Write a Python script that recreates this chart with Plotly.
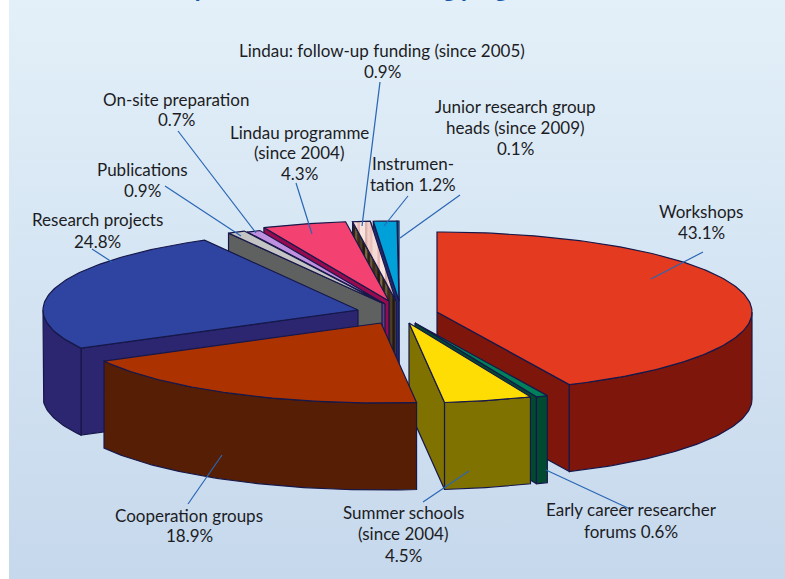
import math
import plotly.graph_objects as go

# ---- data ----
categories = ["Workshops", "Early career researcher forums", "Summer schools", "Cooperation groups",
              "Research projects", "Publications", "On-site preparation", "Lindau programme",
              "Lindau: follow-up funding", "Instrumentation", "Junior research group heads"]
values = [43.1, 0.6, 4.5, 18.9, 24.8, 0.9, 0.7, 4.3, 0.9, 1.2, 0.1]

# ---- styling / layout ----
W, H = 785, 579
RX, RY, DEPTH = 315, 80, 87
apex = [(437, 312), (415, 323), (409, 323), (381, 323), (358, 310), (382, 303),
        (385, 304), (389, 301), (396, 301), (399, 301), (399, 301)]
top_col = ["#e43b20", "#00805a", "#fedd05", "#ac3300", "#2e44a0", "#c4c4c4",
           "#c090e0", "#f34272", "#f2cfcb", "#00a0d8", "#00a0d8"]
wall_col = ["#7f160c", "#014a30", "#7f7200", "#551e05", "#2c2570", "#5f6160",
            "#5c3f86", "#960a50", "#3a2c1c", "#1c2a78", "#1c2a78"]
draw_order = [10, 9, 8, 7, 6, 5, 4, 0, 1, 2, 3]
EDGE = "#17184a"
HATCH_IDX = 8
hatch_top = ["#f6dcd8", "#f6dcd8", "#e9b9b4", "#f8e6e2", "#f8e6e2", "#dcb0ab", "#f3cfca", "#ecc0bb"]
hatch_wall = ["#2e2315", "#6a5a3c", "#3a2c1c", "#4c3e28", "#241a10", "#7a6a48"]

labels = [
    (382, 50, "Lindau: follow-up funding (since 2005)"), (382, 71, "0.9%"),
    (515, 106, "Junior research group"), (515, 127, "heads (since 2009)"), (515, 148, "0.1%"),
    (176, 99, "On-site preparation"), (176, 119, "0.7%"),
    (299, 132, "Lindau programme"), (299, 152, "(since 2004)"), (299, 173, "4.3%"),
    (413, 163, "Instrumen-"), (413, 184, "tation 1.2%"),
    (142, 169, "Publications"), (142, 190, "0.9%"),
    (97, 219, "Research projects"), (97, 241, "24.8%"),
    (701, 211, "Workshops"), (701, 232, "43.1%"),
    (189, 515, "Cooperation groups"), (189, 535, "18.9%"),
    (403, 512, "Summer schools"), (403, 533, "(since 2004)"), (403, 555, "4.5%"),
    (631, 509, "Early career researcher"), (631, 531, "forums 0.6%"),
]
leaders = [((703, 252), (651, 279)), ((460, 195), (400, 238)), ((408, 196), (384, 226)),
           ((380, 82), (362, 226)), ((296, 183), (312, 234)), ((178, 131), (256, 233)),
           ((165, 186), (241, 236)), ((92, 249), (112, 262)), ((188, 504), (222, 455)),
           ((423, 502), (469, 471)), ((546, 470), (630, 509))]

# ---- geometry derived from the values ----
total = sum(values)
bounds = [0.0]
for v in values:
    bounds.append(bounds[-1] + v / total * 360)


def pt(i, a, z=0):
    r = math.radians(a)
    return (apex[i][0] + RX * math.sin(r), apex[i][1] - RY * math.cos(r) + z)


def arc(i, a0, a1, z=0):
    n = max(2, int(abs(a1 - a0)) + 2)
    return [pt(i, a0 + (a1 - a0) * k / (n - 1), z) for k in range(n)]


def clip_band(poly, x0, x1):
    def clip(p, keep, cross):
        out = []
        for k in range(len(p)):
            a, b = p[k], p[(k + 1) % len(p)]
            if keep(a):
                out.append(a)
            if keep(a) != keep(b):
                t = (cross - a[0]) / (b[0] - a[0])
                out.append((cross, a[1] + t * (b[1] - a[1])))
        return out
    res = clip(poly, lambda q: q[0] >= x0, x0)
    if res:
        res = clip(res, lambda q: q[0] <= x1, x1)
    return res


fig = go.Figure()


def add_poly(poly, fill, line=EDGE, width=1.2):
    xs = [q[0] for q in poly] + [poly[0][0]]
    ys = [q[1] for q in poly] + [poly[0][1]]
    fig.add_trace(go.Scatter(x=xs, y=ys, mode="lines", fill="toself", fillcolor=fill,
                             line=dict(color=line, width=width), hoverinfo="skip", showlegend=False))


def add_face(i, poly, fill, stripes=None):
    if stripes is None:
        add_poly(poly, fill)
        return
    add_poly(poly, fill)
    xmin = min(q[0] for q in poly)
    xmax = max(q[0] for q in poly)
    x = xmin
    k = 0
    while x < xmax:
        band = clip_band(poly, x, x + 2.5)
        if len(band) >= 3:
            c = stripes[k % len(stripes)]
            add_poly(band, c, line=c, width=0.2)
        x += 2.5
        k += 1
    xs = [q[0] for q in poly] + [poly[0][0]]
    ys = [q[1] for q in poly] + [poly[0][1]]
    fig.add_trace(go.Scatter(x=xs, y=ys, mode="lines", line=dict(color=EDGE, width=1.2),
                             hoverinfo="skip", showlegend=False))


# background panel with vertical gradient
fig.add_trace(go.Scatter(x=[9, W, W, 9, 9], y=[0, 0, H, H, 0], mode="lines", fill="toself",
                         line=dict(width=0), hoverinfo="skip", showlegend=False,
                         fillgradient=dict(type="vertical",
                                           colorscale=[[0, "#c6d8ec"], [1, "#e3f0f9"]])))

for i in draw_order:
    a0, a1 = bounds[i], bounds[i + 1]
    hatch_w = hatch_wall if i == HATCH_IDX else None
    hatch_t = hatch_top if i == HATCH_IDX else None
    s = math.sin(math.radians(a0))
    if s < -1e-6:   # start wall faces the viewer
        add_face(i, [apex[i], pt(i, a0), pt(i, a0, DEPTH), (apex[i][0], apex[i][1] + DEPTH)],
                 wall_col[i], hatch_w)
    if math.sin(math.radians(a1)) > 1e-6:   # end wall faces the viewer
        add_face(i, [apex[i], pt(i, a1), pt(i, a1, DEPTH), (apex[i][0], apex[i][1] + DEPTH)],
                 wall_col[i], hatch_w)
    lo, hi = max(a0, 90), min(a1, 270)
    if hi > lo:
        add_poly(arc(i, lo, hi) + arc(i, hi, lo, DEPTH), wall_col[i])
    add_face(i, [apex[i]] + arc(i, a0, a1), top_col[i], hatch_t)

for (x0, y0), (x1, y1) in leaders:
    fig.add_trace(go.Scatter(x=[x0, x1], y=[y0, y1], mode="lines",
                             line=dict(color="#2a66b4", width=1.2),
                             hoverinfo="skip", showlegend=False))

annotations = [dict(x=x, y=y, text=t, showarrow=False, xanchor="center", yanchor="middle",
                    font=dict(family="Lato", size=17, color="#1c1c24"))
               for x, y, t in labels]
annotations.append(dict(xref="paper", yref="paper", x=402 / W, y=1 - 4 / H,
                        text="<b>Total expenditure for the funding programme since 2000</b>",
                        showarrow=False, xanchor="center", yanchor="bottom",
                        font=dict(family="Open Sans", size=20.5, color="#1558a8")))

fig.update_layout(
    width=W, height=H, margin=dict(l=0, r=0, t=0, b=0),
    paper_bgcolor="white", plot_bgcolor="white",
    xaxis=dict(range=[0, W], visible=False, fixedrange=True),
    yaxis=dict(range=[H, 0], visible=False, fixedrange=True),
    annotations=annotations, showlegend=False,
)
fig.write_html("out.html", config={"displayModeBar": False},
               post_script="document.body.style.margin='0';document.body.style.overflow='hidden';")
